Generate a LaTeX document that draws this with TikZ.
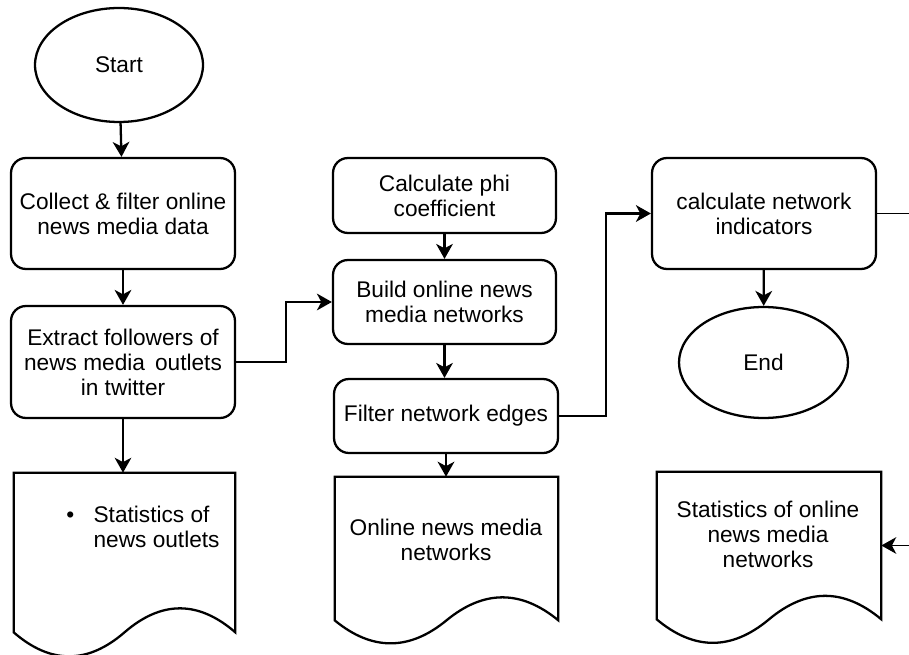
\documentclass[tikz,border=0pt]{standalone}
\usepackage{fontspec}
\setmainfont{Liberation Sans}
\usetikzlibrary{arrows.meta,shapes.geometric,calc}
\tikzset{
  every node/.style={font=\fontsize{12.9}{14.2}\selectfont, align=center},
  procbox/.style={draw, line width=1.3pt, rounded corners=8.5pt, inner sep=0pt},
  termbox/.style={draw, line width=1.3pt, ellipse, inner sep=0pt},
  docframe/.style={inner sep=0pt},
  docline/.style={draw, line width=1.3pt, line join=miter},
  flow/.style={line width=1.3pt, -{Stealth[length=8.5pt,width=9.5pt,inset=2.5pt]}},
  thinflow/.style={line width=0.9pt, -{Stealth[length=8.5pt,width=9.5pt,inset=2.5pt]}},
  txt/.style={inner sep=0pt}
}
\newcommand\wavydoc[2]{%
  \draw[docline] (#1.south east) -- (#1.north east) -- (#1.north west) -- (#1.south west)
    .. controls ($(#1.south west)!1/6!(#1.south east)+(0,#2*4/3)$) and ($(#1.south west)!1/3!(#1.south east)+(0,#2*4/3)$) .. (#1.south)
    .. controls ($(#1.south west)!2/3!(#1.south east)-(0,#2*4/3)$) and ($(#1.south west)!5/6!(#1.south east)-(0,#2*4/3)$) .. (#1.south east) -- cycle;}
\begin{document}
\begin{tikzpicture}[x=0.02cm,y=-0.02cm]
\useasboundingbox (0,0) rectangle (909,655);
% left column
\node[termbox, minimum width=3.36cm, minimum height=2.28cm] (start) at (119,65) {Start};
\node[procbox, minimum width=4.48cm, minimum height=2.22cm] (collect) at (123,213.5) {Collect \& filter online\\news media data};
\node[procbox, minimum width=4.48cm, minimum height=2.24cm] (extract) at (123,362) {Extract followers of\\news media\, outlets\\in twitter};
\node[docframe, minimum width=4.42cm, minimum height=3.18cm] (d1) at (124.5,552.5) {};
\wavydoc{d1}{24}
\node[txt, anchor=west] (d1t) at (66,530) {\begin{tabular}{@{}l@{\hspace{11pt}}l@{}}\textbullet & Statistics of\\ & news outlets\end{tabular}};
% middle column
\node[procbox, minimum width=4.46cm, minimum height=1.5cm] (phi) at (444.5,195.5) {Calculate phi\\coefficient};
\node[procbox, minimum width=4.46cm, minimum height=1.68cm] (build) at (444.5,302) {Build online news\\media networks};
\node[procbox, minimum width=4.48cm, minimum height=1.48cm] (filter) at (446,416) {Filter network edges};
\node[docframe, minimum width=4.46cm, minimum height=2.86cm] (d2) at (446.5,548.5) {};
\wavydoc{d2}{23}
\node[txt] (d2t) at (446,540) {Online news media\\networks};
% right column
\node[procbox, minimum width=4.48cm, minimum height=2.22cm] (ind) at (764,213.5) {calculate network\\indicators};
\node[termbox, minimum width=3.38cm, minimum height=2.22cm] (end) at (763.5,362.5) {End};
\node[docframe, minimum width=4.48cm, minimum height=2.94cm] (d3) at (769,545.5) {};
\wavydoc{d3}{23.5}
\node[txt] (d3t) at (768,534.5) {Statistics of online\\news media\\networks};
\coordinate (rt) at (915,213.5);
% connectors
\draw[flow] (start) -- (collect);
\draw[flow] (collect) -- (extract);
\draw[thinflow] (extract.south) -- (extract.south |- d1.north);
\draw[flow] (extract.east) -- ++(50,0) |- (build.west);
\draw[flow] (phi) -- (build);
\draw[flow] (build.south) -- (build.south |- filter.north);
\draw[flow] (filter.south) -- (filter.south |- d2.north);
\draw[flow] (filter.east) -- ++(47,0) |- (ind.west);
\draw[flow] (ind) -- (end);
\draw[line width=0.9pt] (ind.east) -- (rt);
\draw[thinflow] (rt) |- (d3.east);
\end{tikzpicture}
\end{document}
